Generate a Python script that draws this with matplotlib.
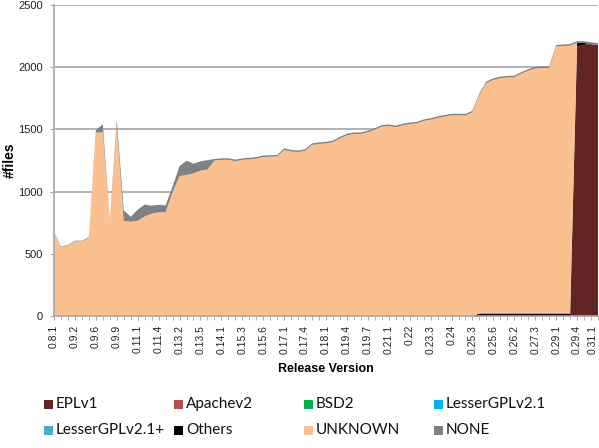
import matplotlib
matplotlib.use("Agg")
import matplotlib.pyplot as plt
from matplotlib.patches import Rectangle
import numpy as np

# tick labels (every third release is labelled)
tick_labels = ["0.8.1", "0.9.2", "0.9.6", "0.9.9", "0.11.1", "0.11.4", "0.13.2",
               "0.13.5", "0.14.1", "0.15.3", "0.15.6", "0.17.1", "0.17.4", "0.18.1",
               "0.19.4", "0.19.7", "0.21.1", "0.22", "0.23.3", "0.24", "0.25.3",
               "0.25.6", "0.26.2", "0.27.3", "0.29.1", "0.29.4", "0.31.1"]

# number of files per licence, one value per release
unknown = [675, 553, 566, 600, 600, 630, 1475, 1475, 765, 1530,
           765, 758, 765, 800, 822, 834, 834, 995, 1125, 1133,
           1147, 1168, 1178, 1250, 1255, 1256, 1245, 1255, 1260, 1265,
           1278, 1280, 1283, 1335, 1323, 1318, 1328, 1375, 1383, 1388,
           1398, 1428, 1453, 1463, 1463, 1478, 1498, 1523, 1528, 1518,
           1533, 1543, 1548, 1568, 1578, 1593, 1603, 1613, 1613, 1613,
           1638, 1758, 1853, 1878, 1892, 1898, 1900, 1928, 1953, 1970,
           1973, 1973, 2146, 2150, 2154, 0, 0, 0, 0]
none = [5, 5, 5, 5, 5, 5, 20, 65, 5, 45,
        85, 40, 90, 95, 65, 60, 55, 45, 80, 115,
        78, 75, 75, 12, 12, 12, 12, 12, 12, 12,
        12, 12, 12, 12, 12, 12, 12, 12, 12, 12,
        12, 12, 12, 12, 12, 12, 12, 12, 12, 12,
        12, 12, 12, 12, 12, 12, 12, 12, 12, 12,
        12, 12, 12, 12, 12, 12, 12, 12, 12, 12,
        12, 12, 12, 12, 12, 12, 13, 15, 15]
others = [0] * 61 + [20, 20, 20, 20, 20, 20, 20, 20, 20,
                     20, 20, 20, 20, 20, 33, 15, 0, 0]
eplv1 = [0] * 75 + [2165, 2180, 2185, 2180]
apachev2 = [0] * len(unknown)
bsd2 = [0] * len(unknown)
lgpl21 = [0] * len(unknown)
lgpl21plus = [0] * len(unknown)

names = ["EPLv1", "Apachev2", "BSD2", "LesserGPLv2.1",
         "LesserGPLv2.1+", "Others", "UNKNOWN", "NONE"]
colors = ["#632523", "#B5504C", "#00B050", "#00B0F0",
          "#4BACC6", "#000000", "#FAC090", "#808080"]

x = np.arange(len(unknown))

W, H = 599, 448
fig = plt.figure(figsize=(W / 100, H / 100), dpi=100)
ax = fig.add_axes([54 / W, 1 - 316 / H, (598 - 54) / W, (316 - 5) / H])

ax.stackplot(x, eplv1, apachev2, bsd2, lgpl21, lgpl21plus, others, unknown, none,
             colors=colors, linewidth=0)

ax.set_xlim(0, len(unknown) - 1)
ax.set_ylim(0, 2500)
ax.set_yticks(range(0, 2501, 500))
ax.yaxis.grid(True, color="#A6A6A6", lw=1.2)
ax.set_axisbelow(True)

ax.set_xticks(x[::3])
ax.set_xticklabels(tick_labels, rotation=90, fontsize=7.5, family="Liberation Sans",
                   color="#222222")
ax.get_xticklabels()[-1].set_horizontalalignment("right")
ax.set_xticks(x, minor=True)
ax.tick_params(axis="x", which="both", length=3, color="#A6A6A6", pad=3.5)
ax.tick_params(axis="y", length=3, color="#A6A6A6", pad=5, labelsize=8, labelcolor="#222222")
for t in ax.get_yticklabels():
    t.set_family("Liberation Sans")

for s in ["top", "right"]:
    ax.spines[s].set_visible(False)
for s in ["left", "bottom"]:
    ax.spines[s].set_color("#A6A6A6")
    ax.spines[s].set_linewidth(1.2)

ax.set_ylabel("#files", fontsize=10, fontweight="bold", family="Liberation Sans", labelpad=1)
fig.text(325.5 / W, 1 - 369 / H, "Release Version", ha="center", va="center",
         fontsize=9, fontweight="bold", family="Liberation Sans")

# legend, laid out like the spreadsheet one
col_x = [44, 174, 304, 434]
row_y = [404, 430]
for k, (name, c) in enumerate(zip(names, colors)):
    cx = col_x[k % 4]
    cy = row_y[k // 4]
    fig.add_artist(Rectangle((cx / W, 1 - (cy + 4.5) / H), 9 / W, 9 / H,
                             transform=fig.transFigure, facecolor=c, edgecolor="none"))
    fig.text((cx + 12) / W, 1 - cy / H, name, ha="left", va="center",
             fontsize=11, family="Lato", color="#111111")

fig.savefig("out.png", dpi=100)
